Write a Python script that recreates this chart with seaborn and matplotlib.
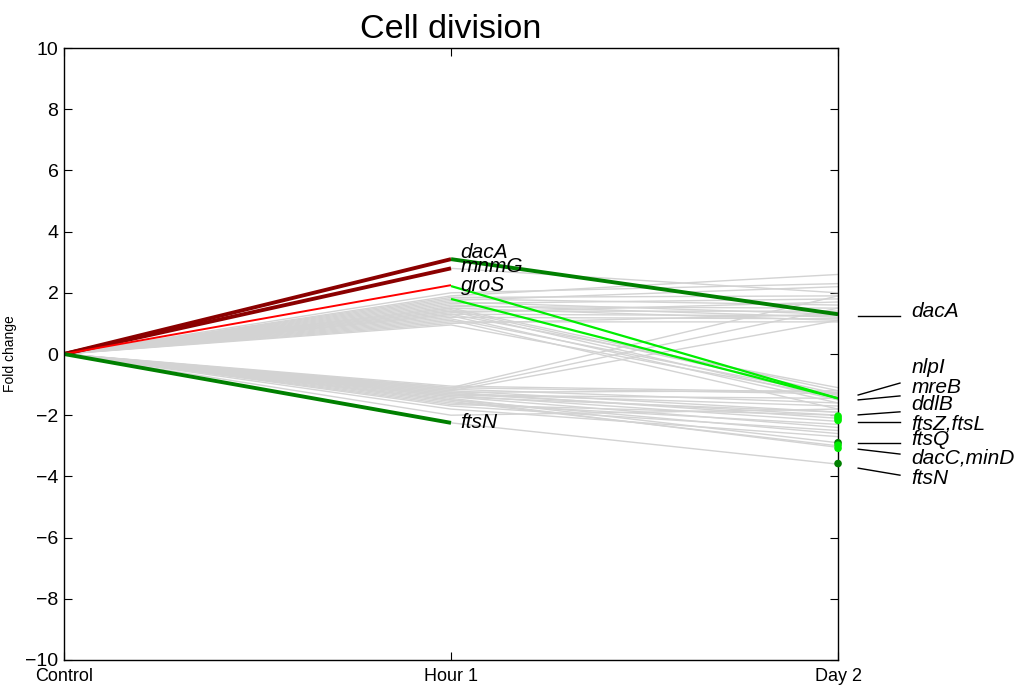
import pandas as pd
import seaborn as sns
import matplotlib.pyplot as plt

plt.rcParams["font.family"] = ["Liberation Sans", "DejaVu Sans"]

# time points
stages = ["Control", "Hour 1", "Day 2"]
yticks = [-10, -8, -6, -4, -2, 0, 2, 4, 6, 8, 10]

# background genes (grey): fold change at Hour 1 and Day 2 (Control = 0)
grey_h1 = [2.0, 1.9, 1.85, 1.8, 1.75, 1.7, 1.65, 1.6, 1.55, 1.5, 1.5, 1.45,
           1.4, 1.4, 1.35, 1.3, 1.3, 1.25, 1.2, 1.15, 1.1, 1.0, 0.95, 2.8,
           -1.1, -1.15, -1.2, -1.1, -1.15, -1.2, -1.25, -1.25, -1.3, -1.3,
           -1.35, -1.35, -1.4, -1.4, -1.45, -1.5, -1.5, -1.55, -1.6, -1.65,
           -1.7, -1.8, -2.0, -2.25, 1.05, -1.05]
grey_d2 = [2.3, 2.6, 1.9, 1.6, 2.2, 1.3, 1.8, 1.2, 1.5, 1.1, -1.2, -1.3,
           1.4, -1.5, 1.7, -1.1, 1.25, -1.6, 1.15, -1.35, -1.8, 1.3, -1.4, 2.0,
           1.9, 1.5, 1.1, -1.3, -1.6, -1.9, -2.1, -1.2, -2.0, -1.7,
           -2.2, -1.45, -2.4, -1.9, -2.9, -2.6, -3.05, -3.0, -2.3, -2.0,
           -2.5, -2.7, -1.8, -3.6, 1.05, -1.25]

# highlighted segments: start stage, end stage, start value, end value, colour, width
seg_from = [0, 0, 0, 0, 1, 1, 1]
seg_to = [1, 1, 1, 1, 2, 2, 2]
seg_v0 = [0, 0, 0, 0, 3.1, 2.22, 1.8]
seg_v1 = [3.1, 2.8, 2.25, -2.25, 1.3, -1.45, -1.45]
seg_col = ["#8b0000", "#8b0000", "#ff0000", "#008000", "#008000", "#00ee00", "#00ee00"]
seg_lw = [2.8, 2.8, 1.4, 2.8, 2.8, 1.6, 1.6]

# significant Day 2 points without a coloured segment
dot_vals = [-2.03, -2.1, -2.17, -2.9, -2.98, -3.08, -3.58]
dot_cols = ["#00ee00", "#00ee00", "#00ee00", "#008000", "#00ee00", "#00ee00", "#008000"]

# gene labels
mid_labels = ["dacA", "mnmG", "groS", "ftsN"]
mid_y = [3.33, 2.86, 2.24, -2.25]
right_labels = ["dacA", "nlpI", "mreB", "ddlB", "ftsZ,ftsL", "ftsQ", "dacC,minD", "ftsN"]
right_y = [1.38, -0.45, -1.1, -1.65, -2.3, -2.8, -3.4, -4.07]
lead_y0 = [1.24, -1.34, -1.5, -1.99, -2.22, -2.9, -3.11, -3.73]
lead_y1 = [1.24, -0.95, -1.37, -1.89, -2.22, -2.9, -3.27, -3.96]

rows = []
for g, (a, b) in enumerate(zip(grey_h1, grey_d2)):
    for x, v in zip([0, 1, 2], [0, a, b]):
        rows.append({"gene": g, "x": x, "fc": v})
grey = pd.DataFrame(rows)

fig = plt.figure(figsize=(10.24, 6.94), dpi=100)
ax = fig.add_axes([0.0625, 0.049, 0.7559, 0.8818])

sns.lineplot(data=grey, x="x", y="fc", units="gene", estimator=None,
             color="#d3d3d3", linewidth=1.0, ax=ax, legend=False)

for i in range(len(seg_from)):
    seg = pd.DataFrame({"x": [seg_from[i], seg_to[i]], "fc": [seg_v0[i], seg_v1[i]]})
    sns.lineplot(data=seg, x="x", y="fc", color=seg_col[i], linewidth=seg_lw[i],
                 ax=ax, legend=False, solid_capstyle="butt")

dots = pd.DataFrame({"x": [2] * len(dot_vals), "fc": dot_vals, "c": dot_cols})
sns.scatterplot(data=dots, x="x", y="fc", hue="c", palette={c: c for c in set(dot_cols)},
                s=30, linewidth=0, ax=ax, legend=False, clip_on=False, zorder=5)

for lab, y in zip(mid_labels, mid_y):
    ax.text(1.025, y, lab, fontsize=15, style="italic", va="center", ha="left")
for lab, y in zip(right_labels, right_y):
    ax.text(2.19, y, lab, fontsize=15, style="italic", va="center", ha="left",
            clip_on=False)
for y0, y1 in zip(lead_y0, lead_y1):
    ax.plot([2.052, 2.16], [y0, y1], color="black", linewidth=1.0, clip_on=False)

ax.set_xlim(0, 2)
ax.set_ylim(-10, 10)
ax.set_xticks([0, 1, 2])
ax.set_xticklabels(stages, fontsize=13)
ax.set_yticks(yticks)
ax.set_yticklabels([str(t).replace("-", "\u2212") for t in yticks], fontsize=14)
ax.tick_params(direction="in", length=6, top=True, right=True, width=0.8)
ax.tick_params(axis="x", pad=6)
ax.tick_params(axis="y", pad=4)
ax.set_xlabel("")
ax.set_ylabel("Fold change", fontsize=10)
ax.yaxis.set_label_coords(-0.061, 0.5)
for s in ax.spines.values():
    s.set_linewidth(1.0)
ax.set_title("Cell division", fontsize=24.5, pad=7)

fig.savefig("out.png", dpi=100)
